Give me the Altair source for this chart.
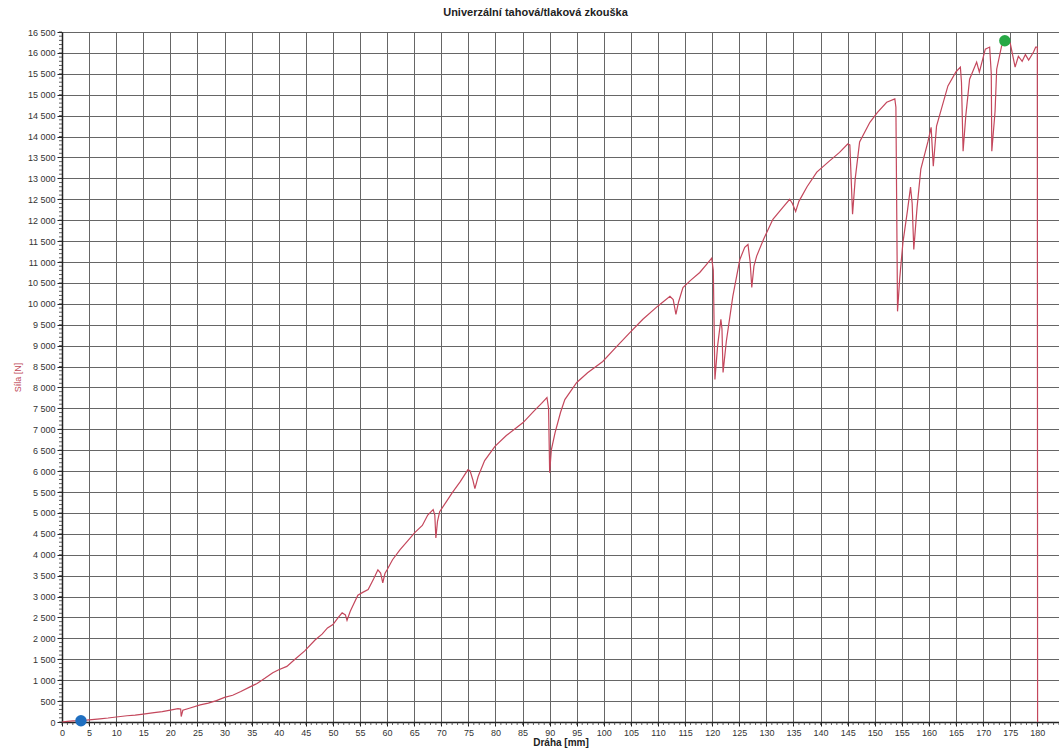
import altair as alt
import pandas as pd

# ---- data ----
distance_mm = [
    0, 1, 2, 3.5, 5, 7, 8.5, 10, 12, 13.5, 15, 17, 18.5, 20, 21.4, 21.9, 22.0, 22.3,
    23.5, 25.5, 27, 28.5, 30, 31.5, 33, 34.7, 36, 37.5, 38.9, 40, 41.5, 43, 44.8,
    46.7, 48, 49, 50, 51.0, 51.7, 52.3, 52.6, 53.2, 54.6, 55.5, 56.5, 57.5, 58.3,
    58.8, 59.2, 59.6, 60, 61, 62.4, 63.8, 65.1, 66.5, 67.5, 68.5, 68.8, 69.0, 69.3,
    69.7, 71, 72, 73.5, 74.9, 75.3, 75.8, 76.2, 76.8, 78, 79.9, 82, 85.1, 87, 88.5,
    89.5, 89.8, 90.0, 90.3, 91, 92, 92.8, 95, 97, 99.8, 102, 104.8, 107.2, 110,
    112.2, 112.8, 113.3, 113.8, 114.6, 116, 117.7, 119, 119.9, 120.2, 120.5, 121.0,
    121.6, 121.8, 122.0, 122.6, 123.8, 125.1, 126.0, 126.6, 127.0, 127.3, 127.7,
    128.2, 129.5, 131.2, 133, 134.3, 134.8, 135.4, 136, 137.5, 139.3, 141.5, 143.5,
    145.0, 145.4, 145.9, 146.4, 147.2, 149.1, 150.5, 152.2, 153.7, 153.9, 154.2,
    154.6, 155.2, 156.0, 156.6, 156.9, 157.2, 157.8, 158.5, 159.8, 160.4, 160.8,
    161.4, 163.5, 165.0, 165.8, 166.0, 166.3, 166.8, 167.5, 168.8, 169.3, 170.4,
    171.2, 171.5, 171.6, 172.2, 172.5, 173.4, 174.0, 175.0, 175.9, 176.5, 177.2,
    177.8, 178.4, 179.3, 179.7, 180.0, 180.05,
]
force_n = [
    0, 15, 25, 35, 50, 75, 95, 120, 150, 165, 190, 225, 250, 285, 320, 310, 130, 280,
    330, 410, 450, 510, 590, 640, 730, 840, 920, 1050, 1180, 1250, 1330, 1500, 1700,
    1960, 2100, 2250, 2330, 2500, 2610, 2560, 2430, 2650, 3030, 3100, 3170, 3420, 3640,
    3560, 3330, 3550, 3640, 3880, 4120, 4330, 4530, 4700, 4950, 5080, 4950, 4400, 4800,
    5030, 5280, 5480, 5750, 6030, 6010, 5800, 5580, 5870, 6250, 6590, 6850, 7160, 7420, 7620,
    7760, 7500, 5960, 6500, 6920, 7400, 7710, 8120, 8350, 8620, 8930, 9310, 9630, 9950,
    10180, 10100, 9750, 10050, 10390, 10560, 10750, 10950, 11090, 10800, 8190, 9000,
    9630, 9400, 8360, 9100, 10180, 11060, 11350, 11420, 11000, 10390, 10900,
    11140, 11550, 12020, 12300, 12500, 12400, 12210, 12450, 12800, 13150, 13400, 13620,
    13820, 13800, 12140, 13000, 13870, 14340, 14580, 14820, 14900, 14700, 9820,
    10600, 11470, 12200, 12790, 12400, 11300, 12300, 13220, 13870, 14220, 13290,
    14250, 15210, 15550, 15660, 15300, 13650, 14500, 15370, 15780, 15540, 16090,
    16140, 15500, 13650, 14600, 15610, 16160, 16280, 16230, 15660, 15920, 15800,
    15960, 15830, 16020, 16140, 16140, 0,
]
marker_x = [3.5, 174.0]
marker_y = [30, 16290]
marker_name = ["start", "max"]
marker_color = ["#1f6fc0", "#27a845"]

x_ticks = list(range(0, 185, 5))
y_ticks = list(range(0, 17000, 500))
x_minor = list(range(0, 185))
y_minor = list(range(0, 16600, 100))

# ---- chart ----
W, H = 997, 690
xs = alt.Scale(domain=[0, 184], nice=False, zero=False)
ys = alt.Scale(domain=[0, 16500], nice=False)
FONT = "Liberation Sans"

curve_df = pd.DataFrame({"x": distance_mm, "y": force_n, "i": range(len(distance_mm))})
marker_df = pd.DataFrame({"x": marker_x, "y": marker_y, "name": marker_name})
xm_df = pd.DataFrame({"x": x_minor})
ym_df = pd.DataFrame({"y": y_minor})

label_expr = "replace(format(datum.value, ','), ',', ' ')"

x_axis = alt.Axis(
    values=x_ticks, title="Dráha [mm]", grid=True, tickSize=4,
    gridColor="#666666", gridOpacity=1, gridWidth=1,
    domainColor="#222", domainWidth=1.5, tickColor="#222",
    labelPadding=2, labelFontSize=9, labelColor="#333", labelFont=FONT,
    titleFont=FONT, titleFontSize=10, titleFontWeight="bold", titleColor="#222",
    titlePadding=0, labelFlush=False)
y_axis = alt.Axis(
    values=y_ticks, title="Síla [N]", grid=True, tickSize=5,
    gridColor="#666666", gridOpacity=1, gridWidth=1,
    domainColor="#222", domainWidth=1.5, tickColor="#222",
    labelExpr=label_expr, labelPadding=2, labelFontSize=9, labelColor="#333",
    labelFont=FONT, titleFont=FONT, titleFontSize=9, titleFontWeight="normal",
    titleColor="#c04a5a", titleX=-45, titleY=H / 2, titleAngle=270,
    titleAlign="center", titleBaseline="middle", labelFlush=False)

curve = alt.Chart(curve_df).mark_line(color="#c4475c", strokeWidth=1.2).encode(
    x=alt.X("x:Q", scale=xs, axis=x_axis),
    y=alt.Y("y:Q", scale=ys, axis=y_axis),
    order="i:Q",
)

xminor = alt.Chart(xm_df).mark_rule(color="#333", strokeWidth=0.8).encode(
    x=alt.X("x:Q", scale=xs, axis=x_axis), y=alt.value(H), y2=alt.value(H + 3))
yminor = alt.Chart(ym_df).mark_rule(color="#333", strokeWidth=0.8).encode(
    y=alt.Y("y:Q", scale=ys, axis=y_axis), x=alt.value(0), x2=alt.value(-3))

markers = alt.Chart(marker_df).mark_circle(size=130, opacity=1).encode(
    x=alt.X("x:Q", scale=xs, axis=x_axis),
    y=alt.Y("y:Q", scale=ys, axis=y_axis),
    color=alt.Color("name:N", scale=alt.Scale(domain=marker_name, range=marker_color), legend=None),
)

chart = alt.layer(curve, xminor, yminor, markers).properties(
    width=W, height=H,
    title=alt.TitleParams("Univerzální tahová/tlaková zkouška", fontSize=11,
                          fontWeight="bold", font=FONT, color="#222", dx=-25, offset=10),
    autosize=alt.AutoSizeParams(type="none"),
    padding={"left": 62, "top": 32, "right": 0, "bottom": 30},
).configure_view(stroke=None).configure(background="white")

chart.save("out.html", embed_options={"renderer": "svg", "actions": False})
